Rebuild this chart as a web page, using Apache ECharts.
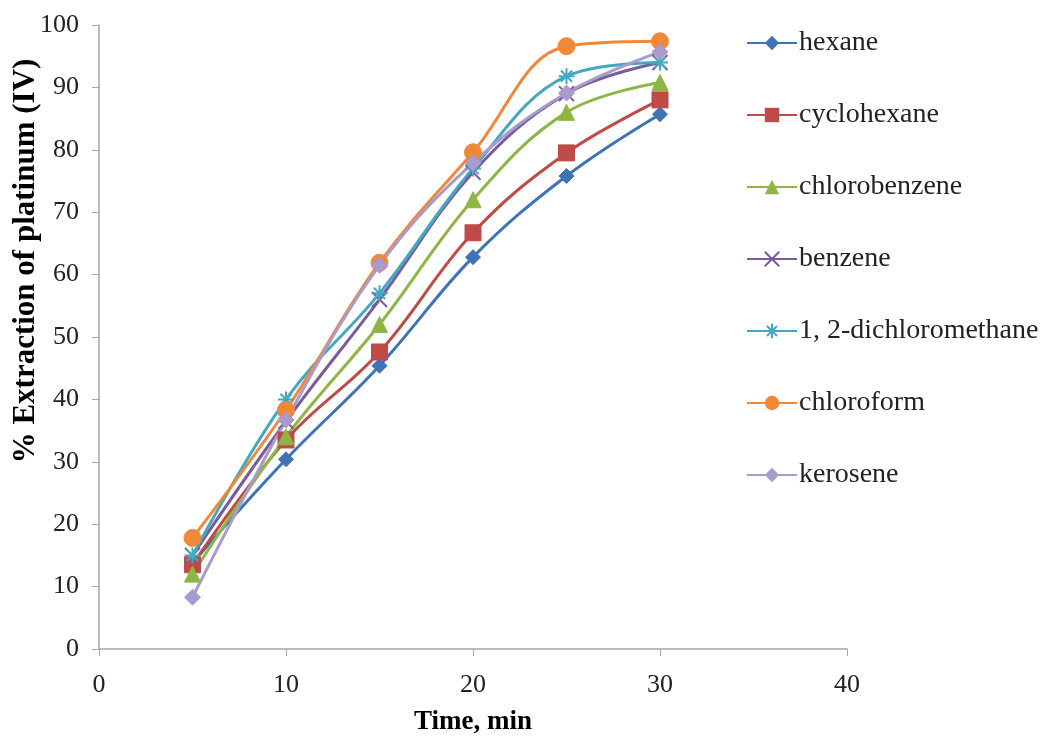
<!DOCTYPE html>
<html><head><meta charset="utf-8">
<script src="https://cdn.jsdelivr.net/npm/echarts@6/dist/echarts.min.js"></script>
<style>html,body{margin:0;padding:0;background:#fff}#c{width:1051px;height:740px}</style>
</head><body><div id="c"></div>
<script>
const times = [5, 10, 15, 20, 25, 30];
const seriesNames = ['hexane','cyclohexane','chlorobenzene','benzene','1, 2-dichloromethane','chloroform','kerosene'];
const hexane = [13.8, 30.4, 45.4, 62.8, 75.8, 85.7];
const cyclohexane = [13.5, 33.5, 47.6, 66.7, 79.5, 88.0];
const chlorobenzene = [12.0, 34.0, 52.0, 72.0, 86.0, 90.8];
const benzene = [15.0, 36.5, 56.0, 76.4, 89.0, 94.0];
const dichloromethane = [15.0, 40.0, 57.0, 77.0, 91.8, 94.0];
const chloroform = [17.8, 38.3, 61.9, 79.6, 96.6, 97.4];
const kerosene = [8.3, 36.7, 61.5, 77.9, 89.1, 95.7];
const allValues = [hexane, cyclohexane, chlorobenzene, benzene, dichloromethane, chloroform, kerosene];

const colors = ['#3F73B8','#BE4B48','#8FB545','#7A5C9E','#45A8C2','#F0883A','#A99BCB'];
const symbols = ['diamond','rect','triangle','x','star','circle','diamond'];

const xPath = 'path://M0,0L10,10M10,0L0,10';
const starPath = 'path://M5,0L5,10M0,5L10,5M1.5,1.5L8.5,8.5M8.5,1.5L1.5,8.5';
function sym(s){ if(s==='x') return xPath; if(s==='star') return starPath; return s; }
const symSizes = [15, 16, 16, 15, 16, 17, 16];

const font = 'Liberation Serif';
const series = seriesNames.map((n,i)=>({
  name: n, type: 'line', smooth: 0.38, smoothConstraint: false,
  data: times.map((t,j)=>[t, allValues[i][j]]),
  symbol: sym(symbols[i]), symbolSize: symSizes[i],
  lineStyle: {color: colors[i], width: 3},
  itemStyle: (symbols[i]==='x'||symbols[i]==='star') ? {color: 'transparent', borderColor: colors[i], borderWidth: 2} : {color: colors[i], borderColor: colors[i]},
  emphasis: {disabled: true}
}));

const chart = echarts.init(document.getElementById('c'), null, {renderer: 'canvas'});
chart.setOption({
  animation: false,
  backgroundColor: '#fff',
  grid: {left: 99, top: 25, width: 748, height: 624, containLabel: false, outerBoundsMode: 'none'},
  xAxis: {
    type: 'value', min: 0, max: 40, interval: 10,
    name: 'Time, min', nameLocation: 'middle', nameGap: 60, nameMoveOverlap: false,
    nameTextStyle: {fontFamily: font, fontSize: 27, fontWeight: 'bold', color: '#000'},
    axisLine: {lineStyle: {color: '#A6A6A6', width: 1.5}},
    axisTick: {show: true, inside: false, length: 7, lineStyle: {color: '#A6A6A6'}},
    axisLabel: {fontFamily: font, fontSize: 26, color: '#222', margin: 23},
    splitLine: {show: false}
  },
  yAxis: {
    type: 'value', min: 0, max: 100, interval: 10,
    name: '% Extraction of platinum (IV)', nameLocation: 'middle', nameGap: 58, nameRotate: 90, nameMoveOverlap: false,
    nameTextStyle: {fontFamily: font, fontSize: 31, fontWeight: 'bold', color: '#000', padding: [0, 0, 0, 152]},
    axisLine: {show: true, lineStyle: {color: '#A6A6A6', width: 1.5}},
    axisTick: {show: true, inside: false, length: 7, lineStyle: {color: '#A6A6A6'}},
    axisLabel: {fontFamily: font, fontSize: 26, color: '#222', margin: 20},
    splitLine: {show: false}
  },
  legend: {
    orient: 'vertical', left: 746, top: 29, padding: 0, itemWidth: 50, itemHeight: 18, itemGap: 44,
    textStyle: {fontFamily: font, fontSize: 28, color: '#222', padding: [0,0,0,-3]},
    data: seriesNames
  },
  series: series
});
</script></body></html>
